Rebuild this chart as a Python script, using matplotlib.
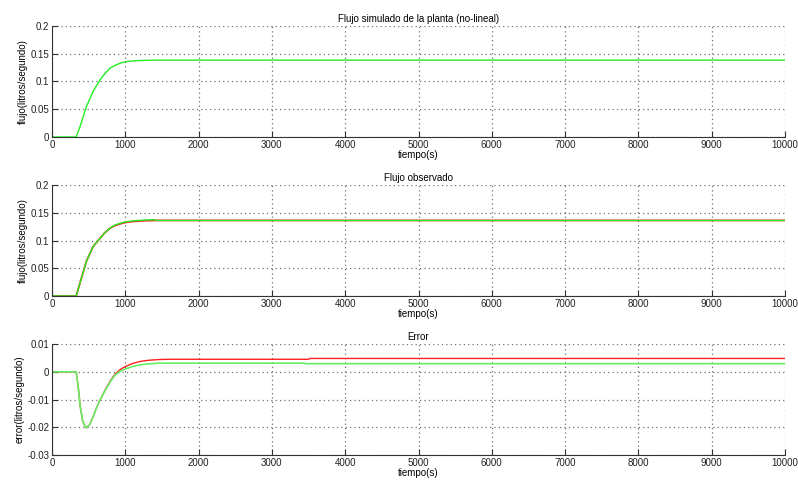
import numpy as np
import matplotlib.pyplot as plt

plt.rcParams['font.family'] = ['Liberation Sans', 'DejaVu Sans']
plt.rcParams['font.size'] = 7

# plant flow (non-linear simulation)
t_planta = [0, 330, 385, 470, 560, 655, 720, 790, 860, 930, 1000, 1100, 1200, 1300, 1400, 10000]
q_planta = [0, 0, 0.020, 0.055, 0.082, 0.103, 0.114, 0.124, 0.129, 0.133, 0.1355, 0.1370, 0.1378, 0.1382, 0.1385, 0.1385]

# observed flow: observer output (green) and estimate (red)
t_obs = [0, 330, 385, 470, 560, 655, 720, 790, 860, 930, 1000, 1100, 1200, 1300, 1400]
q_obs_verde = [0, 0, 0.025, 0.063, 0.089, 0.104, 0.114, 0.122, 0.128, 0.131, 0.1335, 0.1352, 0.1363, 0.1370, 0.1375]
t_obs_rojo = [0, 330, 385, 470, 560, 655, 720, 790, 860, 930, 1000, 1100, 1200, 1300, 1400, 10000]
q_obs_rojo = [0, 0, 0.025, 0.063, 0.089, 0.104, 0.114, 0.122, 0.127, 0.130, 0.1325, 0.1342, 0.1352, 0.1358, 0.1362, 0.1362]
t_obs_fin = [1400, 10000]
q_obs_fin = [0.1375, 0.1375]

# error signals
t_err = [0, 330, 360, 385, 420, 464, 510, 560, 610, 655, 720, 790, 860, 930, 1000, 1100, 1200, 1300, 1450, 1600,
         3500, 3520, 10000]
e_rojo = [0, 0, -0.0060, -0.0126, -0.0180, -0.0202, -0.0192, -0.0162, -0.0128, -0.0102, -0.0068, -0.0035, -0.0008,
          0.0008, 0.0019, 0.0030, 0.0037, 0.0041, 0.0044, 0.0045, 0.0045, 0.0048, 0.0048]
t_err_v = [0, 330, 360, 385, 420, 464, 510, 560, 610, 655, 720, 790, 860, 930, 1000, 1100, 1200, 1300, 1450, 3440,
           3460, 10000]
e_verde = [0, 0, -0.0060, -0.0126, -0.0180, -0.0202, -0.0192, -0.0162, -0.0128, -0.0102, -0.0070, -0.0038, -0.0012,
           0.0002, 0.0010, 0.0019, 0.0025, 0.0028, 0.0031, 0.0031, 0.0029, 0.0029]

verde = '#22ee22'
rojo = '#ff2020'

fig = plt.figure(figsize=(7.98, 4.87), dpi=100)
left, width = 0.0652, 0.9185
ax1 = fig.add_axes([left, 0.7187, width, 0.2279])
ax2 = fig.add_axes([left, 0.3922, width, 0.2279])
ax3 = fig.add_axes([left, 0.0657, width, 0.2279])

ax1.plot(t_planta, q_planta, color=verde, lw=1)
ax2.plot(t_obs_rojo, q_obs_rojo, color=rojo, lw=1.3)
ax2.plot(t_obs, q_obs_verde, color=verde, lw=1)
ax2.plot(t_obs_fin, q_obs_fin, color=verde, lw=0.9)
ax3.plot(t_err, e_rojo, color=rojo, lw=1)
ax3.plot(t_err_v, e_verde, color='#66f066', lw=1.2)

titles = ['Flujo simulado de la planta (no-lineal)', 'Flujo observado', 'Error']
ylabels = ['flujo(litros/segundo)', 'flujo(litros/segundo)', 'error(litros/segundo)']

for ax, ttl, yl in zip([ax1, ax2, ax3], titles, ylabels):
    ax.set_xlim(0, 10000)
    ax.set_xticks(np.arange(0, 10001, 1000))
    ax.set_title(ttl, fontsize=7, pad=3)
    ax.set_xlabel('tiempo(s)', labelpad=0)
    ax.set_ylabel(yl, labelpad=2)
    ax.grid(True, linestyle=(0, (1, 2.5)), color='#707070', linewidth=0.9)
    for s in ['top', 'right']:
        ax.spines[s].set_visible(False)
    for s in ['bottom', 'left']:
        ax.spines[s].set_color('#333333')
    ax.tick_params(direction='in', length=4, color='#333333', labelcolor='#222222', pad=2)

for ax in [ax1, ax2]:
    ax.set_ylim(0, 0.2)
    ax.set_yticks([0, 0.05, 0.1, 0.15, 0.2])
    ax.set_yticklabels(['0', '0.05', '0.1', '0.15', '0.2'])

ax3.set_ylim(-0.03, 0.01)
ax3.set_yticks([-0.03, -0.02, -0.01, 0, 0.01])
ax3.set_yticklabels(['-0.03', '-0.02', '-0.01', '0', '0.01'])

fig.savefig('out.png', dpi=100)
